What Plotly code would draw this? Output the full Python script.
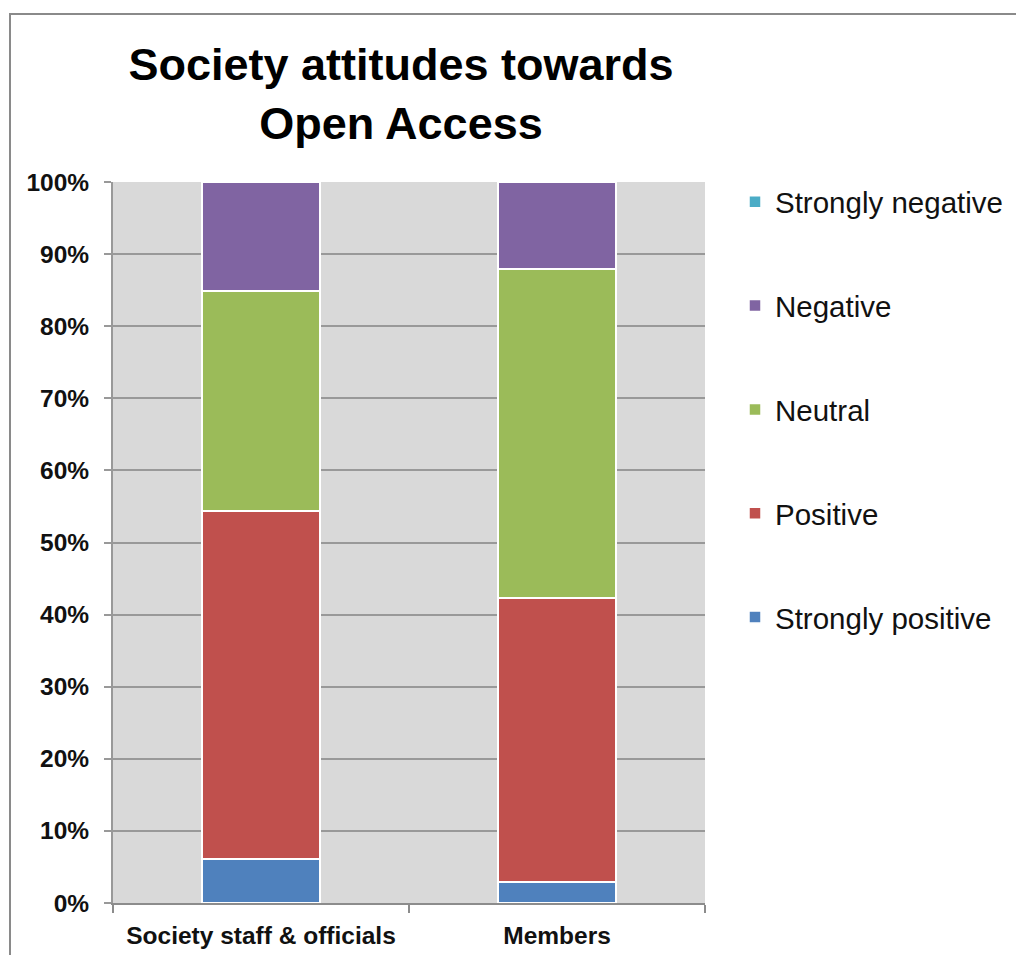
import plotly.graph_objects as go

categories = ["Society staff & officials", "Members"]
series_names = ["Strongly positive", "Positive", "Neutral", "Negative", "Strongly negative"]
strongly_positive = [6.1, 2.9]
positive = [48.3, 39.4]
neutral = [30.5, 45.6]
negative = [15.1, 12.1]
strongly_negative = [0.0, 0.0]
series_values = [strongly_positive, positive, neutral, negative, strongly_negative]
colors = ["#4f81bd", "#c0504d", "#9bbb59", "#8064a2", "#4bacc6"]
y_ticks = [0, 10, 20, 30, 40, 50, 60, 70, 80, 90, 100]
y_tick_labels = [f"{v}%" for v in y_ticks]

FONT = "Arial, Liberation Sans, Helvetica, sans-serif"

fig = go.Figure()
n = len(series_names)
for i, (name, vals, col) in enumerate(zip(series_names, series_values, colors)):
    fig.add_trace(go.Bar(
        x=categories, y=vals, name=name, legendgroup=name,
        legendrank=1000 + (n - i),
        marker=dict(color=col, line=dict(color="white", width=1.5)),
        width=0.4,
    ))

# page offset of the figure (body margin)
OFF = 8
W, H = 1024, 955

def fx(p):  # page px -> figure px
    return p - OFF

L = fx(113)
R = W - fx(705)
T = fx(182)
B = H - fx(903)
pw, ph = W - L - R, H - T - B

def px_x(p):
    return (fx(p) - L) / pw

def px_y(p):
    return (H - B - fx(p)) / ph

fig.update_layout(
    width=W, height=H,
    margin=dict(l=L, r=R, t=T, b=B, pad=0),
    barmode="stack",
    paper_bgcolor="white",
    plot_bgcolor="#d9d9d9",
    font=dict(family=FONT, color="black"),
    title=dict(
        text="<b>Society attitudes towards<br>Open Access</b>",
        font=dict(size=45, family=FONT, color="black"),
        x=px_x(401), xref="paper", xanchor="center",
        y=1 - 72 / H, yref="container", yanchor="top",
    ),
    legend=dict(
        x=px_x(735), y=px_y(176), xanchor="left", yanchor="top",
        traceorder="grouped", tracegroupgap=62.5,
        font=dict(size=29.5, family=FONT, color="#111"),
        bgcolor="rgba(0,0,0,0)",
        itemwidth=30,
    ),
    xaxis=dict(
        showgrid=False,
        showline=True, linecolor="#8c8c8c", linewidth=2,
        ticks="outside", tickson="boundaries", ticklen=8, tickcolor="#8c8c8c", tickwidth=2,
        tickfont=dict(size=24.5, family=FONT, color="#111", weight="bold"),
        ticklabelstandoff=10,
    ),
    yaxis=dict(
        range=[0, 100], tickmode="array", tickvals=y_ticks, ticktext=y_tick_labels,
        showgrid=True, gridcolor="#999999", gridwidth=2,
        showline=True, linecolor="#999999", linewidth=2,
        ticks="outside", ticklen=7, tickcolor="#999999", tickwidth=2,
        tickfont=dict(size=24.5, family=FONT, color="#111", weight="bold"),
        ticklabelstandoff=10,
        zeroline=False,
    ),
    shapes=[dict(
        type="rect", xref="paper", yref="paper",
        x0=px_x(10), x1=px_x(1060), y0=px_y(990), y1=px_y(14),
        line=dict(color="#8a8a8a", width=2), fillcolor="rgba(0,0,0,0)", layer="below",
    )],
)

fig.write_html("out.html")
